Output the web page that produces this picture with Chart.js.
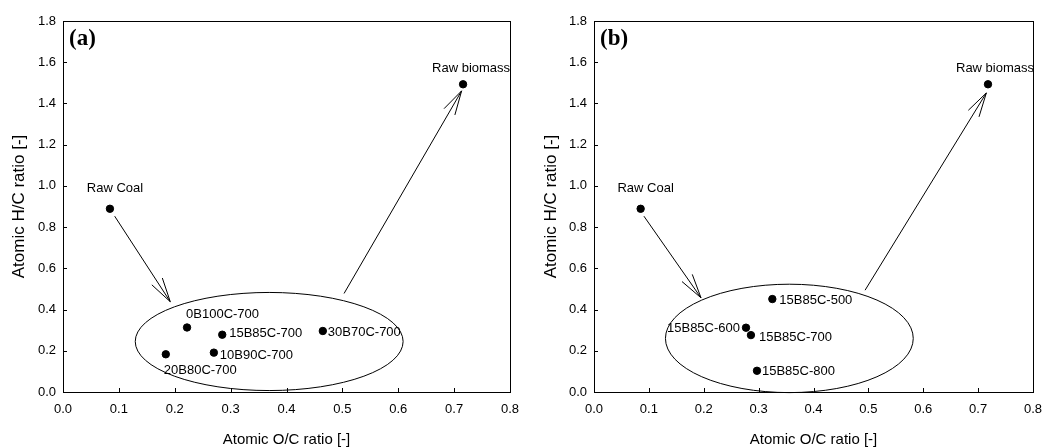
<!DOCTYPE html>
<html><head><meta charset="utf-8">
<script src="https://cdn.jsdelivr.net/npm/chart.js@4"></script>
<style>
html,body{margin:0;padding:0;background:#fff;}
.wrap{display:flex;width:1046px;height:447px;}
.box{position:relative;width:523px;height:447px;}
</style></head><body>
<div class="wrap"><div class="box"><canvas id="ca"></canvas></div><div class="box"><canvas id="cb"></canvas></div></div>
<script>
// ---- data ----
const xTickValues = [0.0,0.1,0.2,0.3,0.4,0.5,0.6,0.7,0.8];
const yTickValues = [0.0,0.2,0.4,0.6,0.8,1.0,1.2,1.4,1.6,1.8];

const panelALabels = ['Raw Coal','Raw biomass','0B100C-700','15B85C-700','30B70C-700','10B90C-700','20B80C-700'];
const panelAOC = [0.084,0.716,0.222,0.285,0.465,0.270,0.184];
const panelAHC = [0.889,1.493,0.313,0.278,0.296,0.191,0.183];

const panelBLabels = ['Raw Coal','Raw biomass','15B85C-500','15B85C-600','15B85C-700','15B85C-800'];
const panelBOC = [0.085,0.718,0.325,0.277,0.286,0.297];
const panelBHC = [0.889,1.493,0.451,0.312,0.276,0.103];

// ellipse: [centerOC, centerHC, radiusOC, radiusHC]
const panelAEllipse = [0.369,0.245,0.2397,0.238];
const panelBEllipse = [0.356,0.260,0.2258,0.263];
// arrows: [fromOC, fromHC, toOC, toHC]
const panelAArrows = [[0.0925,0.853,0.192,0.438],[0.503,0.478,0.7134,1.461]];
const panelBArrows = [[0.091,0.853,0.195,0.457],[0.494,0.494,0.715,1.451]];

// ---- label placement (style) ----
const labelPlaceA = [['center',5,-20],['center',8,-16],['left',-1,-13],['left',7,-1],['left',5,1],['left',6,3],['left',-2,16]];
const labelPlaceB = [['center',5,-20],['center',7,-16],['left',7,1],['right',-6,1],['left',8,2],['left',5,1]];

const SANS = "'Liberation Sans', Arial, sans-serif";

const decoPlugin = {
  id:'deco',
  beforeDatasetsDraw(chart){
    const o = chart.options.plugins.deco;
    const ctx = chart.ctx, xs = chart.scales.x, ys = chart.scales.y, a = chart.chartArea;
    ctx.save();
    ctx.strokeStyle = '#000'; ctx.lineWidth = 1;
    ctx.strokeRect(a.left+0.5, a.top+0.5, a.right-a.left, a.bottom-a.top);
    ctx.beginPath();
    xTickValues.forEach(v=>{const px=Math.round(xs.getPixelForValue(v))+0.5; ctx.moveTo(px,a.bottom); ctx.lineTo(px,a.bottom-4);});
    yTickValues.forEach(v=>{const py=Math.round(ys.getPixelForValue(v))+0.5; ctx.moveTo(a.left,py); ctx.lineTo(a.left+4,py);});
    ctx.stroke();
    const e = o.ellipse;
    const cx = xs.getPixelForValue(e[0]), cy = ys.getPixelForValue(e[1]);
    const rx = Math.abs(xs.getPixelForValue(e[0]+e[2])-cx), ry = Math.abs(ys.getPixelForValue(e[1]+e[3])-cy);
    ctx.beginPath(); ctx.ellipse(cx,cy,rx,ry,0,0,Math.PI*2); ctx.stroke();
    o.arrows.forEach(ar=>{
      const x1=xs.getPixelForValue(ar[0]), y1=ys.getPixelForValue(ar[1]);
      const x2=xs.getPixelForValue(ar[2]), y2=ys.getPixelForValue(ar[3]);
      ctx.beginPath(); ctx.moveTo(x1,y1); ctx.lineTo(x2,y2); ctx.stroke();
      const ang = Math.atan2(y1-y2,x1-x2), L=25, h=14.5*Math.PI/180;
      ctx.beginPath();
      ctx.moveTo(x2+L*Math.cos(ang+h), y2+L*Math.sin(ang+h)); ctx.lineTo(x2,y2);
      ctx.lineTo(x2+L*Math.cos(ang-h), y2+L*Math.sin(ang-h));
      ctx.stroke();
    });
    ctx.restore();
  },
  afterDatasetsDraw(chart){
    const o = chart.options.plugins.deco;
    const ctx = chart.ctx, meta = chart.getDatasetMeta(0), a = chart.chartArea;
    ctx.save();
    ctx.fillStyle = '#000'; ctx.textBaseline='middle';
    ctx.font = "13px " + SANS;
    o.labels.forEach((t,i)=>{
      const p = meta.data[i], pl = o.place[i];
      ctx.textAlign = pl[0];
      ctx.fillText(t, p.x+pl[1], p.y+pl[2]);
    });
    ctx.font = "bold 23px 'Liberation Serif', 'Times New Roman', serif";
    ctx.textAlign='left';
    ctx.fillText(o.panel, a.left+6, 39);
    ctx.restore();
  }
};

function makeChart(id, oc, hc, labels, place, ellipse, arrows, panel, leftW, titlePad){
  return new Chart(document.getElementById(id), {
    type:'scatter',
    data:{datasets:[{data:oc.map((x,i)=>({x:x,y:hc[i]})), backgroundColor:'#000', borderColor:'#000', pointRadius:3.7, pointHoverRadius:3.7}]},
    options:{
      responsive:true, maintainAspectRatio:false, animation:false, devicePixelRatio:1,
      layout:{padding:{top:21,right:13,left:0,bottom:0}},
      plugins:{legend:{display:false}, tooltip:{enabled:false},
        deco:{labels:labels, place:place, ellipse:ellipse, arrows:arrows, panel:panel}},
      scales:{
        x:{type:'linear', min:0, max:0.8,
          afterFit(s){ s.height = 55; s.paddingLeft = 0; s.paddingRight = 0; },
          afterBuildTicks(s){ s.ticks = xTickValues.map(v=>({value:v})); },
          ticks:{callback:v=>v.toFixed(1), color:'#000', font:{family:SANS, size:13}, padding:10, maxRotation:0, autoSkip:false},
          grid:{display:false, drawTicks:false}, border:{display:false},
          title:{display:true, text:'Atomic O/C ratio [-]', color:'#000', font:{family:SANS, size:15, lineHeight:1}, padding:{top:0,bottom:0}}},
        y:{type:'linear', min:0, max:1.8,
          afterFit(s){ s.width = leftW; s.paddingTop = 0; s.paddingBottom = 0; },
          afterBuildTicks(s){ s.ticks = yTickValues.map(v=>({value:v})); },
          ticks:{callback:v=>v.toFixed(1), color:'#000', font:{family:SANS, size:13}, padding:7, autoSkip:false},
          grid:{display:false, drawTicks:false}, border:{display:false},
          title:{display:true, text:'Atomic H/C ratio [-]', color:'#000', font:{family:SANS, size:17, lineHeight:1}, padding:{top:titlePad,bottom:0}}}
      }
    },
    plugins:[decoPlugin]
  });
}
makeChart('ca', panelAOC, panelAHC, panelALabels, labelPlaceA, panelAEllipse, panelAArrows, '(a)', 63, 11);
makeChart('cb', panelBOC, panelBHC, panelBLabels, labelPlaceB, panelBEllipse, panelBArrows, '(b)', 71, 20);
</script>
</body></html>
